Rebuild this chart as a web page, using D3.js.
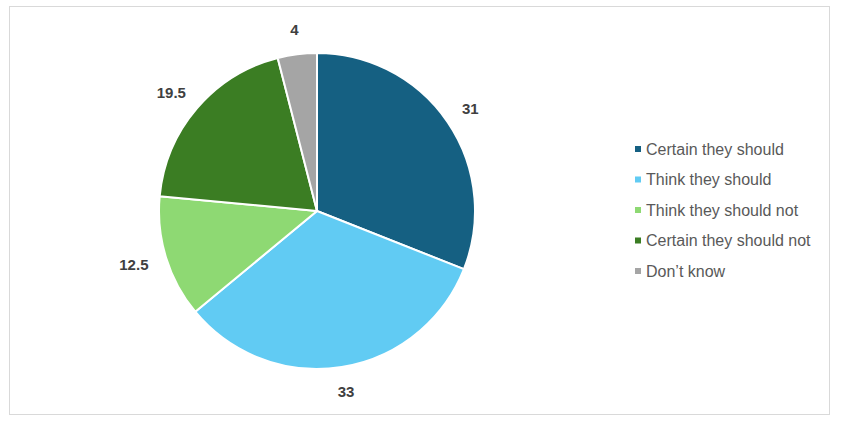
<!DOCTYPE html>
<html>
<head>
<meta charset="utf-8">
<script src="https://cdn.jsdelivr.net/npm/d3@7"></script>
<style>
html,body{margin:0;padding:0;background:#fff;}
svg{display:block;}
</style>
</head>
<body>
<svg id="chart" width="842" height="429"></svg>
<script>
const categories = ["Certain they should","Think they should","Think they should not","Certain they should not","Don\u2019t know"];
const values = [31, 33, 12.5, 19.5, 4];
const colors = ["#156082","#61CBF3","#8ED973","#3B7D23","#A5A5A5"];

const svg = d3.select("#chart");
svg.append("rect").attr("x",9.5).attr("y",6.5).attr("width",820).attr("height",408)
  .attr("fill","#fff").attr("stroke","#d9d9d9").attr("stroke-width",1);

const cx = 317, cy = 211, r = 158;
const data = categories.map((c,i)=>({cat:c, value:values[i], color:colors[i]}));
const pie = d3.pie().value(d=>d.value).sort(null);
const arc = d3.arc().innerRadius(0).outerRadius(r);
const arcs = pie(data);
const g = svg.append("g").attr("transform",`translate(${cx},${cy})`);
g.selectAll("path").data(arcs).join("path")
  .attr("d",arc).attr("fill",d=>d.data.color)
  .attr("stroke","#fff").attr("stroke-width",2).attr("stroke-linejoin","round");

g.selectAll("text.lbl").data(arcs).join("text")
  .attr("class","lbl")
  .attr("font-family","'Liberation Sans', Arial, sans-serif")
  .attr("font-size",15).attr("font-weight","bold").attr("fill","#404040")
  .attr("text-anchor","middle").attr("dominant-baseline","central")
  .text(d=>d.data.value)
  .each(function(d){
    const a = (d.startAngle+d.endAngle)/2;
    const w = this.getComputedTextLength()/2;
    const R = 177;
    const x = Math.sin(a)*R + Math.sin(a)*w;
    const y = -Math.cos(a)*R - Math.cos(a)*6;
    d3.select(this).attr("x",x).attr("y",y);
  });

const leg = svg.append("g");
const rowY = d3.scalePoint().domain(categories).range([149,271]);
categories.forEach((c,i)=>{
  const y = rowY(c);
  leg.append("rect").attr("x",635).attr("y",y-3).attr("width",6).attr("height",6).attr("fill",colors[i]);
  leg.append("text").attr("x",646).attr("y",y).attr("dominant-baseline","central")
    .attr("font-family","'Liberation Sans', Arial, sans-serif").attr("font-size",16)
    .attr("fill","#595959").text(c);
});
</script>
</body>
</html>
